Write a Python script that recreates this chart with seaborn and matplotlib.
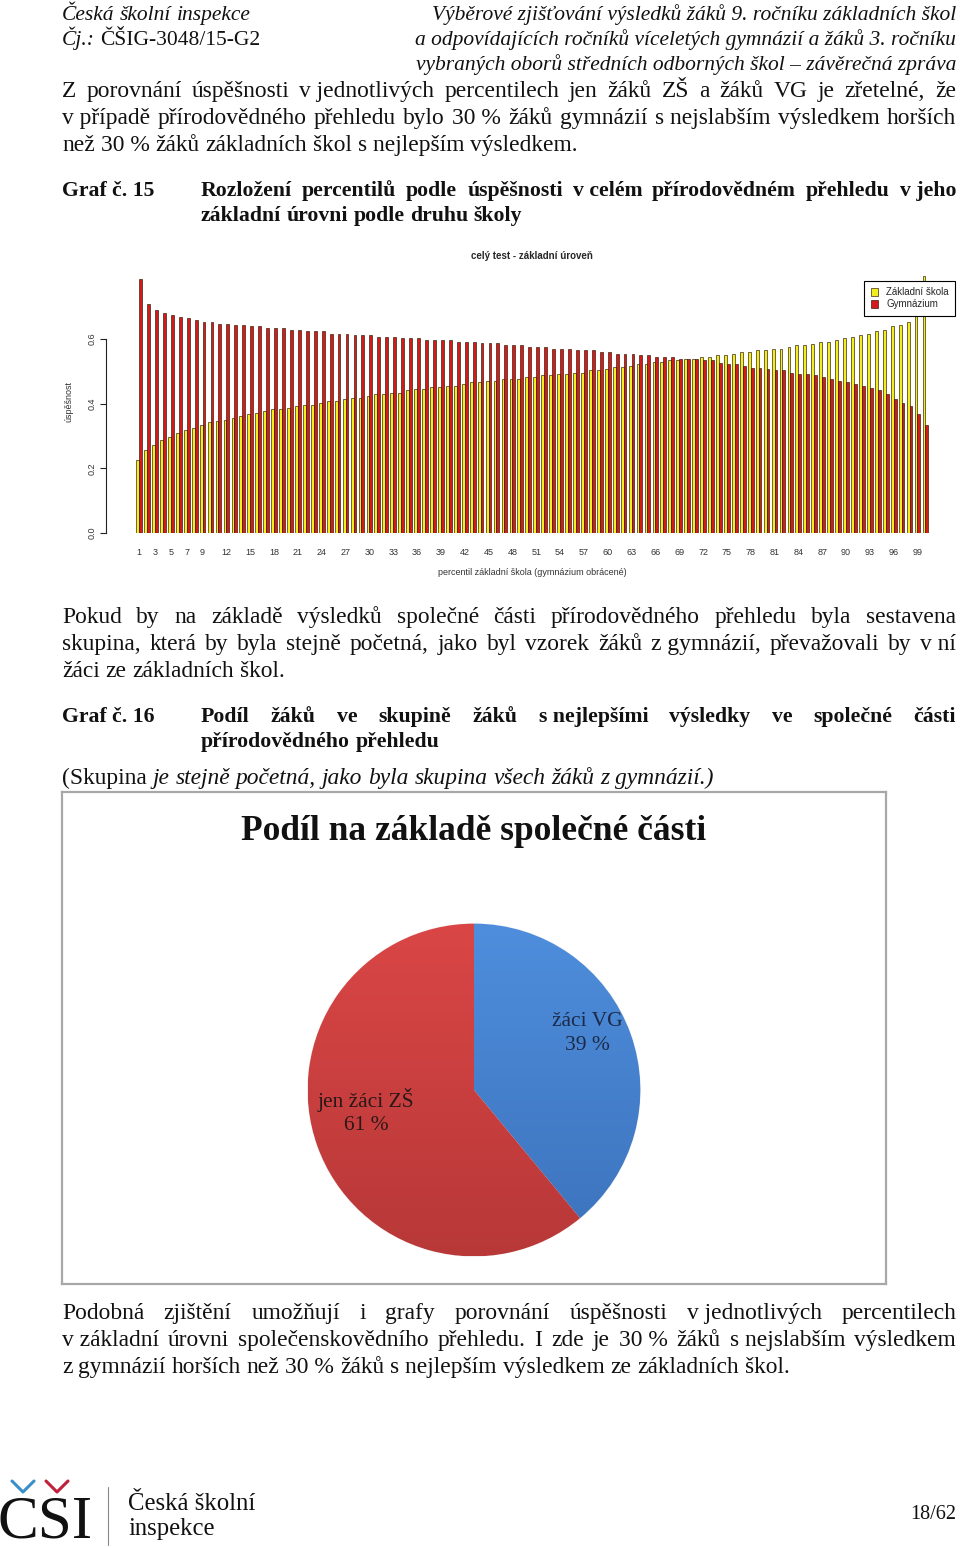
import numpy as np
import pandas as pd
import seaborn as sns
import matplotlib.pyplot as plt
from matplotlib.colors import LinearSegmentedColormap

W, H = 960, 1548
SERIF = "Liberation Serif"
SANS = "Liberation Sans"

# --- data for Graf č. 15 ---
percentil = [str(i) for i in range(1, 101)]
zakladni_skola = [
    0.225, 0.256, 0.273, 0.288, 0.297, 0.309, 0.318, 0.325, 0.334, 0.342,
    0.346, 0.350, 0.355, 0.361, 0.367, 0.371, 0.376, 0.383, 0.383, 0.387,
    0.392, 0.397, 0.397, 0.403, 0.407, 0.407, 0.413, 0.418, 0.418, 0.425,
    0.429, 0.429, 0.433, 0.433, 0.441, 0.445, 0.445, 0.451, 0.451, 0.455,
    0.455, 0.461, 0.466, 0.466, 0.470, 0.470, 0.475, 0.475, 0.475, 0.483,
    0.483, 0.488, 0.488, 0.491, 0.491, 0.496, 0.496, 0.503, 0.503, 0.507,
    0.512, 0.512, 0.517, 0.523, 0.523, 0.529, 0.529, 0.534, 0.534, 0.539,
    0.539, 0.543, 0.543, 0.549, 0.549, 0.553, 0.560, 0.560, 0.566, 0.566,
    0.570, 0.570, 0.574, 0.581, 0.581, 0.585, 0.590, 0.590, 0.596, 0.602,
    0.606, 0.611, 0.615, 0.623, 0.628, 0.639, 0.643, 0.652, 0.674, 0.794,
]
gymnazium = [
    0.784, 0.707, 0.690, 0.681, 0.674, 0.668, 0.664, 0.659, 0.652, 0.652,
    0.647, 0.647, 0.643, 0.643, 0.639, 0.639, 0.633, 0.633, 0.633, 0.628,
    0.628, 0.623, 0.623, 0.623, 0.615, 0.615, 0.615, 0.611, 0.611, 0.611,
    0.607, 0.607, 0.607, 0.603, 0.603, 0.603, 0.596, 0.596, 0.596, 0.596,
    0.591, 0.591, 0.591, 0.586, 0.586, 0.586, 0.581, 0.581, 0.581, 0.574,
    0.574, 0.574, 0.570, 0.570, 0.570, 0.566, 0.566, 0.566, 0.560, 0.560,
    0.553, 0.553, 0.553, 0.549, 0.549, 0.544, 0.544, 0.544, 0.539, 0.539,
    0.539, 0.534, 0.534, 0.527, 0.523, 0.523, 0.517, 0.511, 0.511, 0.507,
    0.503, 0.503, 0.496, 0.492, 0.492, 0.487, 0.481, 0.475, 0.470, 0.466,
    0.461, 0.455, 0.447, 0.441, 0.429, 0.414, 0.403, 0.392, 0.367, 0.334,
]
shown_ticks = [1, 3, 5, 7, 9] + list(range(12, 100, 3))

# --- data for Graf č. 16 ---
pie_labels = ["žáci VG", "jen žáci ZŠ"]
pie_values = [39, 61]

sns.set_style("white")
plt.rcParams["font.family"] = [SERIF, "DejaVu Serif"]

fig = plt.figure(figsize=(W / 100, H / 100), dpi=100)
renderer = fig.canvas.get_renderer()
FS = 16.9      # body text
FS_B = 15.7    # bold captions
FS_H = 15.5    # italic page header
INK = "#111111"


def put_line(tokens, base_y, x0, x1=None, justify=False, size=FS):
    """tokens: list of (word, style) with style r/i/b; justified if asked"""
    texts = []
    for word, st in tokens:
        t = fig.text(x0 / W, 1 - base_y / H, word.replace("~", " "),
                     fontsize=size, color=INK, va="baseline", ha="left",
                     fontstyle="italic" if st == "i" else "normal",
                     fontweight="bold" if st == "b" else "normal")
        texts.append(t)
    widths = [t.get_window_extent(renderer).width for t in texts]
    if justify and len(texts) > 1:
        gap = (x1 - x0 - sum(widths)) / (len(texts) - 1)
    else:
        gap = size * 0.25 * 100 / 72
    x = x0
    for t, w in zip(texts, widths):
        t.set_x(x / W)
        x += w + gap


def words(s, st="r"):
    return [(w, st) for w in s.split()]


# header
put_line(words("Česká školní inspekce", "i"), 20, 62, size=FS_H)
put_line([("Čj.:", "i"), ("ČŠIG-3048/15-G2", "r")], 45, 62, size=FS_H)
for txt, yb in [("Výběrové zjišťování výsledků žáků 9. ročníku základních škol", 20),
                ("a odpovídajících ročníků víceletých gymnázií a žáků 3. ročníku", 45),
                ("vybraných oborů středních odborných škol – závěrečná zpráva", 70)]:
    fig.text(956 / W, 1 - yb / H, txt, fontsize=FS_H, fontstyle="italic",
             color=INK, ha="right", va="baseline")

# paragraph 1
put_line(words("Z porovnání úspěšnosti v~jednotlivých percentilech jen žáků ZŠ a žáků VG je zřetelné, že"), 97, 62, 956, True)
put_line(words("v~případě přírodovědného přehledu bylo 30~% žáků gymnázií s~nejslabším výsledkem horších"), 124, 62, 956, True)
put_line(words("než 30~% žáků základních škol s~nejlepším výsledkem."), 151, 62)

# caption 15
put_line(words("Graf č.~15", "b"), 196, 62, size=FS_B)
put_line(words("Rozložení percentilů podle úspěšnosti v~celém přírodovědném přehledu v~jeho", "b"), 196, 201, 956, True, size=FS_B)
put_line(words("základní úrovni podle druhu školy", "b"), 221, 201, size=FS_B)

# --- bar chart ---
df = pd.DataFrame({
    "percentil": percentil * 2,
    "úspěšnost": zakladni_skola + gymnazium,
    "škola": ["Základní škola"] * 100 + ["Gymnázium"] * 100,
})
ax = fig.add_axes([106 / W, 1 - 533 / H, (958 - 106) / W, (533 - 270) / H])
sns.barplot(data=df, x="percentil", y="úspěšnost", hue="škola", ax=ax,
            order=percentil, hue_order=["Základní škola", "Gymnázium"],
            palette=["#f0ee1e", "#d41a1a"], width=0.72, gap=0,
            edgecolor="#2a1500", linewidth=0.45, errorbar=None, saturation=1)
ax.set_ylim(0, 0.813)
ax.set_xlim(-4.16, 103.1)
for s in ["top", "right", "bottom"]:
    ax.spines[s].set_visible(False)
ax.spines["left"].set_bounds(0, 0.6)
ax.spines["left"].set_color("#222222")
ax.spines["left"].set_linewidth(0.8)
ax.set_yticks([0, 0.2, 0.4, 0.6])
ax.set_yticklabels(["0.0", "0.2", "0.4", "0.6"], rotation=90, va="center",
                   fontsize=6.5, family=SANS, color="#333333")
ax.tick_params(axis="y", left=True, length=4, width=0.8, pad=3, color="#222222")
ax.set_xticks([p - 1 for p in shown_ticks])
ax.set_xticklabels([str(p) for p in shown_ticks], fontsize=6.5, family=SANS,
                   color="#333333")
ax.tick_params(axis="x", length=0, pad=11)
ax.set_xlabel("percentil základní škola (gymnázium obrácené)", fontsize=6.5,
              family=SANS, color="#333333", labelpad=8)
ax.set_ylabel("úspěšnost", fontsize=6.5, family=SANS, color="#333333",
              labelpad=10)
ax.set_title("celý test - základní úroveň", fontsize=7, family=SANS,
             fontweight="bold", pad=8)
sns.move_legend(ax, "upper right", bbox_to_anchor=(0.9965, 0.958),
                borderaxespad=0, title=None, frameon=True, fancybox=False,
                edgecolor="black", framealpha=1,
                handlelength=0.8, handleheight=0.8, borderpad=0.65,
                labelspacing=0.2, prop={"family": SANS, "size": 7})
ax.get_legend().get_frame().set_linewidth(0.8)

# paragraph 2
put_line(words("Pokud by na základě výsledků společné části přírodovědného přehledu byla sestavena"), 623, 62, 956, True)
put_line(words("skupina, která by byla stejně početná, jako byl vzorek žáků z~gymnázií, převažovali by v~ní"), 650, 62, 956, True)
put_line(words("žáci ze základních škol."), 677, 62)

# caption 16
put_line(words("Graf č.~16", "b"), 722, 62, size=FS_B)
put_line(words("Podíl žáků ve skupině žáků s~nejlepšími výsledky ve společné části", "b"), 722, 201, 956, True, size=FS_B)
put_line(words("přírodovědného přehledu", "b"), 747, 201, size=FS_B)
put_line([("(Skupina", "r")] + words("je stejně početná, jako byla skupina všech žáků z~gymnázií.)", "i"), 784, 62)

# --- pie chart ---
frame = fig.add_axes([62 / W, 1 - 1284 / H, (886 - 62) / W, (1284 - 792) / H])
frame.set_xticks([])
frame.set_yticks([])
for s in frame.spines.values():
    s.set_color("#a8a8a8")
    s.set_linewidth(1.6)
frame.text(0.500, 0.920, "Podíl na základě společné části", transform=frame.transAxes,
           ha="center", va="center", fontsize=25.5, fontweight="bold", color="#111111")

pax = fig.add_axes([306 / W, 1 - 1258 / H, 336 / W, 336 / H])
wedges, _ = pax.pie(pie_values, startangle=90, counterclock=False,
                    colors=["#4585d6", "#d64242"],
                    wedgeprops={"edgecolor": "#f4f4f4", "linewidth": 0.8})
grads = [("#4e8edc", "#3c72bc"), ("#da4646", "#b83838")]
grad = np.linspace(0, 1, 256).reshape(-1, 1)
for w, (c_top, c_bot) in zip(wedges, grads):
    cmap = LinearSegmentedColormap.from_list("g", [c_top, c_bot])
    im = pax.imshow(grad, cmap=cmap, extent=(-1, 1, -1, 1), aspect="auto",
                    zorder=w.get_zorder() + 0.1)
    im.set_clip_path(w)
pax.set_xlim(-1.01, 1.01)
pax.set_ylim(-1.01, 1.01)
pax.axis("off")
pax.text(0.68, 0.34, f"{pie_labels[0]}\n{pie_values[0]} %", ha="center",
         va="center", fontsize=15.5, color="#1c2a48", zorder=5, linespacing=1.3)
pax.text(-0.65, -0.13, f"{pie_labels[1]}\n{pie_values[1]} %", ha="center",
         va="center", fontsize=15.5, color="#2a1818", zorder=5, linespacing=1.3)

# paragraph 3
put_line(words("Podobná zjištění umožňují i grafy porovnání úspěšnosti v~jednotlivých percentilech"), 1319, 62, 956, True)
put_line(words("v~základní úrovni společenskovědního přehledu. I zde je 30~% žáků s~nejslabším výsledkem"), 1346, 62, 956, True)
put_line(words("z gymnázií horších než 30~% žáků s~nejlepším výsledkem ze základních škol."), 1373, 62)

# footer logo
fig.text(-2 / W, 1 - 1538 / H, "CSI", fontsize=44, color="#111111", va="baseline",
         ha="left")
for x0, col in [(12, "#3a8fc8"), (46, "#c0203a")]:
    fig.add_artist(plt.Line2D([x0 / W, (x0 + 11) / W, (x0 + 22) / W],
                              [1 - 1481 / H, 1 - 1492 / H, 1 - 1481 / H],
                              color=col, linewidth=2.2))
fig.add_artist(plt.Line2D([108 / W, 108 / W], [1 - 1487 / H, 1 - 1545 / H],
                          color="#888888", linewidth=0.8))
fig.text(128 / W, 1 - 1510 / H, "Česká školní", fontsize=17.8, color=INK, va="baseline")
fig.text(128 / W, 1 - 1535 / H, "inspekce", fontsize=17.8, color=INK, va="baseline")
fig.text(956 / W, 1 - 1519 / H, "18/62", fontsize=14.5, color=INK, va="baseline",
         ha="right")

fig.savefig("out.png", dpi=100)
